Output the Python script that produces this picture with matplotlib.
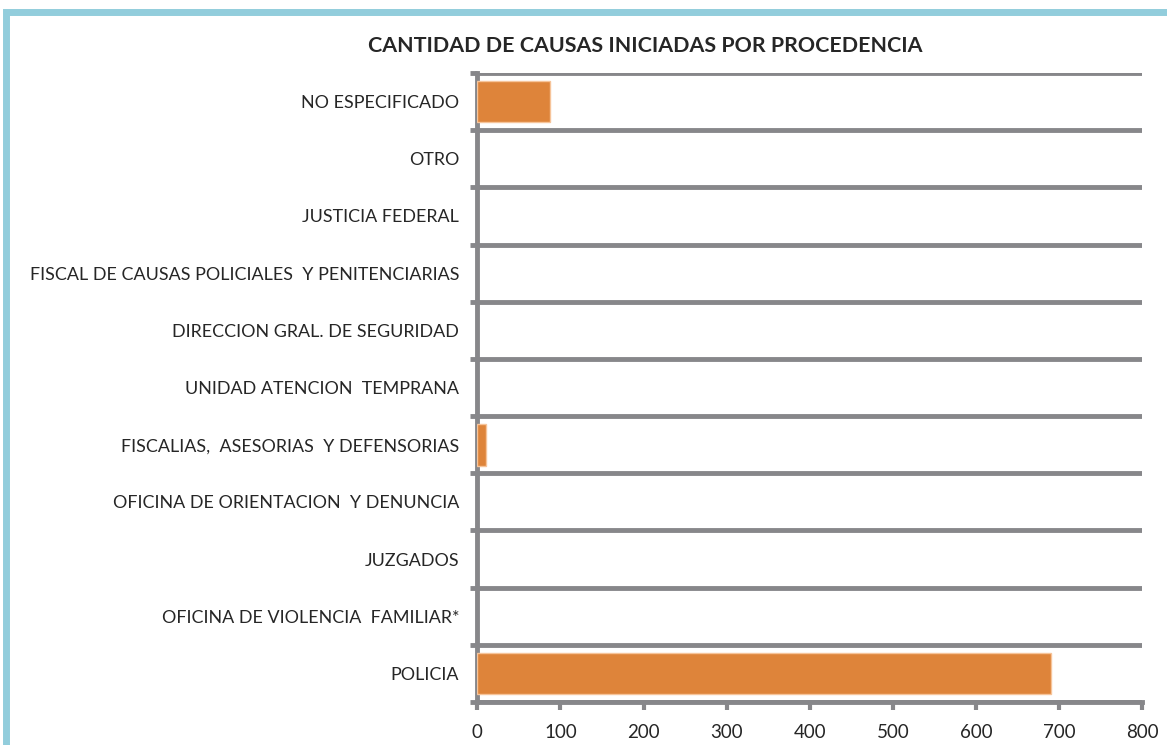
import matplotlib.pyplot as plt
from matplotlib.patches import Rectangle
import numpy as np

categorias = ['POLICIA', 'OFICINA DE VIOLENCIA  FAMILIAR*', 'JUZGADOS',
              'OFICINA DE ORIENTACION  Y DENUNCIA',
              'FISCALIAS,  ASESORIAS  Y DEFENSORIAS',
              'UNIDAD ATENCION  TEMPRANA', 'DIRECCION GRAL. DE SEGURIDAD',
              'FISCAL DE CAUSAS POLICIALES  Y PENITENCIARIAS',
              'JUSTICIA FEDERAL', 'OTRO', 'NO ESPECIFICADO']
causas = [690, 0, 0, 0, 10, 0, 0, 0, 0, 0, 87]
xticks = [0, 100, 200, 300, 400, 500, 600, 700, 800]

plt.rcParams['font.family'] = ['Lato', 'DejaVu Sans']
gris = '#87878a'

fig = plt.figure(figsize=(11.67, 7.45), dpi=100)
ax = fig.add_axes([0.409, 0.0577, 0.570, 0.8443])

y = np.arange(len(categorias))
bordes = [1 if v > 0 else 0 for v in causas]
ax.barh(y, causas, height=0.73, color='#de843a', edgecolor='#f6c49a', linewidth=bordes, zorder=3)

ax.set_xlim(0, 800)
ax.set_ylim(-0.5, len(categorias) - 0.5)
ax.set_xticks(xticks)
ax.set_xticklabels([str(t) for t in xticks], fontsize=13.5, color='#262626')
ax.set_yticks(y)
ax.set_yticklabels(categorias, fontsize=12.9, color='#262626')
ax.tick_params(axis='y', which='major', length=0, pad=13)
ax.set_yticks(np.arange(-0.5, len(categorias)), minor=True)
ax.tick_params(axis='y', which='minor', length=5, width=3.5, color=gris, direction='out')
ax.tick_params(axis='x', length=6, width=3, color=gris, direction='out', pad=10)
ax.grid(axis='y', which='minor', color=gris, linewidth=3.5, zorder=1)
ax.grid(axis='x', visible=False)

for s in ['top', 'right']:
    ax.spines[s].set_visible(False)
for s in ['left', 'bottom']:
    ax.spines[s].set_color(gris)
    ax.spines[s].set_linewidth(3.5)

fig.text(0.553, 0.938, 'CANTIDAD DE CAUSAS INICIADAS POR PROCEDENCIA', ha='center',
         va='center', fontsize=15.4, fontweight='bold', color='#262626')

# marco celeste (solo se ve arriba e izquierda)
fig.patches.append(Rectangle((6 / 1167, -0.05), 1.1, 1.05 - 12 / 745, transform=fig.transFigure,
                             fill=False, edgecolor='#92cddc', linewidth=5))

fig.savefig('out.png', dpi=100)
